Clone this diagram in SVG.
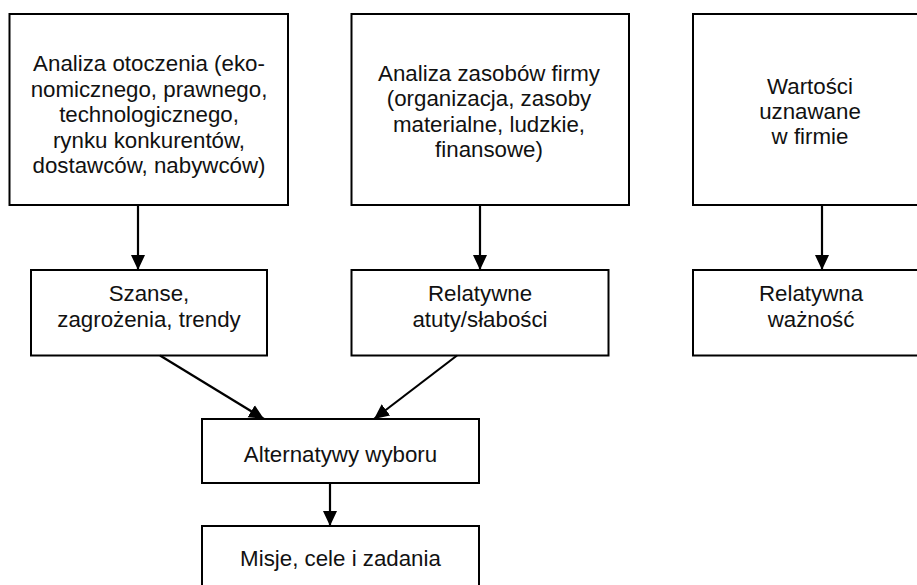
<svg xmlns="http://www.w3.org/2000/svg" width="917" height="585" viewBox="0 0 917 585">
  <style>
    .box { fill: #ffffff; stroke: #000000; stroke-width: 2; }
    .lbl { font-family: "Liberation Sans", Arial, sans-serif; font-size: 22.3px; fill: #111111; text-anchor: middle; }
    .conn { stroke: #000000; stroke-width: 2.2; fill: none; marker-end: url(#arrow); }
  </style>
  <defs>
    <marker id="arrow" markerUnits="userSpaceOnUse" markerWidth="16" markerHeight="16" viewBox="0 0 16 16" refX="15" refY="8" orient="auto">
      <path d="M0,1 L15,8 L0,15 Z" fill="#000000"/>
    </marker>
  </defs>
  <rect width="917" height="585" fill="#ffffff"/>

  <g id="otoczenie">
    <rect class="box" x="9.5" y="14" width="278.5" height="191"/>
    <text class="lbl" x="149" y="71">Analiza otoczenia (eko-</text>
    <text class="lbl" x="149" y="96.5">nomicznego, prawnego,</text>
    <text class="lbl" x="149" y="122">technologicznego,</text>
    <text class="lbl" x="149" y="147.5">rynku konkurentów,</text>
    <text class="lbl" x="149" y="173">dostawców, nabywców)</text>
  </g>

  <g id="zasoby">
    <rect class="box" x="351.5" y="14" width="277.5" height="191"/>
    <text class="lbl" x="489" y="81">Analiza zasobów firmy</text>
    <text class="lbl" x="489" y="106.3">(organizacja, zasoby</text>
    <text class="lbl" x="489" y="131.6">materialne, ludzkie,</text>
    <text class="lbl" x="489" y="157">finansowe)</text>
  </g>

  <g id="wartosci">
    <rect class="box" x="693" y="14" width="260" height="191"/>
    <text class="lbl" x="810" y="94">Wartości</text>
    <text class="lbl" x="810" y="119">uznawane</text>
    <text class="lbl" x="810" y="144">w firmie</text>
  </g>

  <g id="szanse">
    <rect class="box" x="31" y="270" width="236" height="85.5"/>
    <text class="lbl" x="149" y="301">Szanse,</text>
    <text class="lbl" x="149" y="327">zagrożenia, trendy</text>
  </g>

  <g id="atuty">
    <rect class="box" x="351.5" y="270" width="257" height="85.5"/>
    <text class="lbl" x="480" y="301">Relatywne</text>
    <text class="lbl" x="480" y="327">atuty/słabości</text>
  </g>

  <g id="waznosc">
    <rect class="box" x="693" y="270" width="260" height="85.5"/>
    <text class="lbl" x="811" y="301">Relatywna</text>
    <text class="lbl" x="811" y="327">ważność</text>
  </g>

  <g id="alternatywy">
    <rect class="box" x="202" y="419" width="277" height="64"/>
    <text class="lbl" x="340.5" y="461.5">Alternatywy wyboru</text>
  </g>

  <g id="misje">
    <rect class="box" x="202" y="526" width="277" height="80"/>
    <text class="lbl" x="340.5" y="565.5">Misje, cele i zadania</text>
  </g>

  <g id="connectors">
    <line class="conn" x1="138" y1="205" x2="138" y2="270"/>
    <line class="conn" x1="480" y1="205" x2="480" y2="270"/>
    <line class="conn" x1="822" y1="205" x2="822" y2="270"/>
    <line class="conn" x1="160" y1="355.5" x2="264" y2="419"/>
    <line class="conn" x1="457" y1="355.5" x2="374" y2="419"/>
    <line class="conn" x1="330" y1="483" x2="330" y2="526"/>
  </g>
</svg>
